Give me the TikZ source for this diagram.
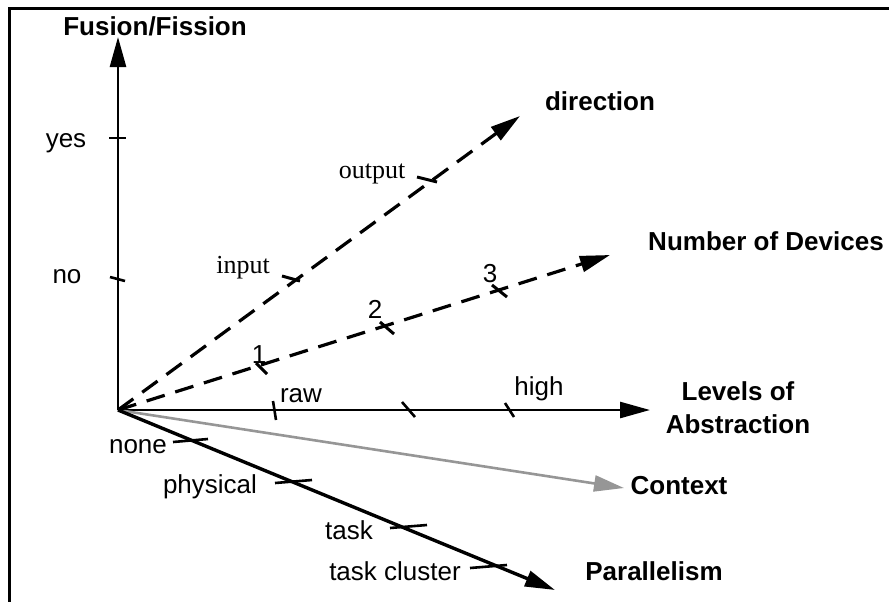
\documentclass[tikz,border=0pt]{standalone}
\usepackage{fontspec}
\setmainfont{Liberation Sans}
\newfontfamily\seriffont{Liberation Serif}
\usetikzlibrary{arrows.meta}
\definecolor{ctxgray}{RGB}{150,150,150}
\tikzset{
  axis/.style={line width=1.3pt,-{Triangle[length=15pt,width=8pt]}},
  daxis/.style={line width=1.6pt,dash pattern=on 9.5pt off 5.5pt,-{Triangle[length=15pt,width=8pt]}},
  tk/.style={line width=1.3pt},
  lab/.style={anchor=base,inner sep=0pt,font=\fontsize{13}{15}\selectfont},
  blab/.style={lab,font=\fontsize{13}{15}\selectfont\bfseries},
  slab/.style={lab,font=\fontsize{13}{15}\selectfont\seriffont},
}
\begin{document}
\begin{tikzpicture}[x=0.5pt,y=-0.5pt]
\useasboundingbox (0,0) rectangle (889,601);
% frame
\draw[line width=1.5pt] (9,610) -- (9,8) -- (895,8);
% coordinates
\coordinate (O) at (118,410);
\coordinate (FF) at (118,37);
\coordinate (LA) at (650,410);
\coordinate (CT) at (624,488);
\coordinate (PA) at (555,590);
\coordinate (DI) at (520,116);
\coordinate (ND) at (610,255);
% axes
\draw[axis] (O) -- (FF);
\draw[axis] (O) -- (LA);
\draw[axis,draw=ctxgray,fill=ctxgray] (O) -- (CT);
\draw[axis,line width=1.7pt] (O) -- (PA);
\draw[daxis] (O) -- (DI);
\draw[daxis] (O) -- (ND);
% ticks
\draw[tk] (109,138) -- (126,138);
\draw[tk] (110,277) -- (125,281);
\draw[tk] (273,401) -- (276,420);
\draw[tk] (402,402) -- (415,417);
\draw[tk] (505,403) -- (514,417);
\draw[tk] (173,442) -- (208,439);
\draw[tk] (275,483) -- (312,480);
\draw[tk] (390,528) -- (427,525);
\draw[tk] (470,568) -- (507,565);
\draw[tk,line width=1.5pt] (282,276) -- (300,281);
\draw[tk,line width=1.5pt] (417,177) -- (437,182);
\draw[tk,line width=1.5pt] (256,363) -- (267,374);
\draw[tk,line width=1.5pt] (380,322) -- (394,334);
\draw[tk,line width=1.5pt] (492,285) -- (507,297);
% labels
\node[blab] (lFF) at (155,35) {Fusion/Fission};
\node[lab] (lyes) at (66,147) {yes};
\node[lab] (lno) at (67,283) {no};
\node[blab] (lDI) at (600,110) {direction};
\node[slab] (lout) at (372,178) {output};
\node[slab] (lin) at (243,273) {input};
\node[blab] (lND) at (766,250) {Number of Devices};
\node[lab] (l1) at (259,363) {1};
\node[lab] (l2) at (375,318) {2};
\node[lab] (l3) at (490,282) {3};
\node[lab] (lraw) at (301,402) {raw};
\node[lab] (lhigh) at (539,395) {high};
\node[blab] (lLA1) at (738,400) {Levels of};
\node[blab] (lLA2) at (738,433) {Abstraction};
\node[blab] (lCT) at (679,494) {Context};
\node[blab] (lPA) at (654,580) {Parallelism};
\node[lab] (lnone) at (138,453) {none};
\node[lab] (lphys) at (210,493) {physical};
\node[lab] (ltask) at (349,539) {task};
\node[lab] (ltc) at (395,580) {task cluster};
\end{tikzpicture}
\end{document}
